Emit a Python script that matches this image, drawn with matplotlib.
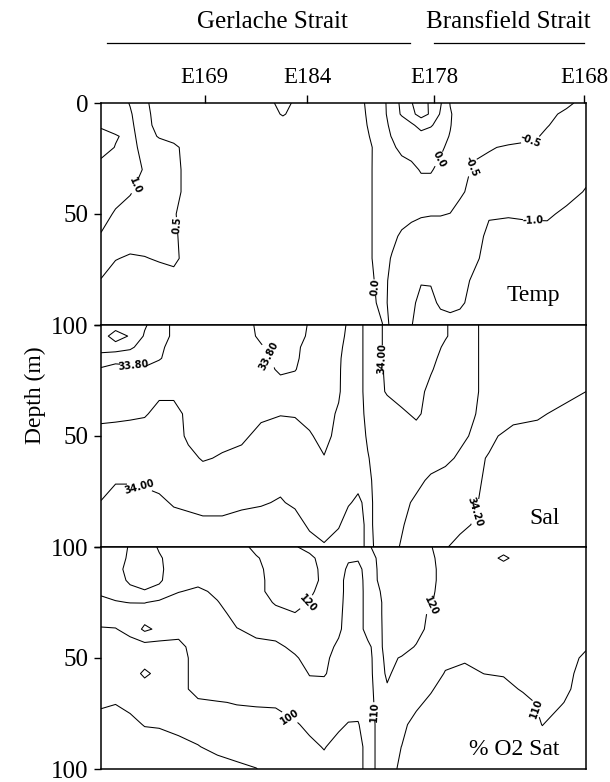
import numpy as np
import matplotlib
matplotlib.use('Agg')
import matplotlib.pyplot as plt
from matplotlib.lines import Line2D

plt.rcParams['font.family'] = ['Liberation Serif', 'DejaVu Serif']
plt.rcParams['contour.negative_linestyle'] = 'solid'

# named stations along the section (distance along the transect, 0-100)
stations = ['E169', 'E184', 'E178', 'E168']
station_x = [21.4, 42.5, 68.7, 99.6]

# ---- temperature (deg C), rows = depth, columns = distance ----
temp_x = [0, 3, 6, 9, 12, 15, 18, 22, 30, 34, 37.5, 41, 46, 51, 54, 56,
          58, 60, 62, 64, 66, 68, 70, 72, 74, 77, 80, 84, 88, 92, 96, 100]
temp_depth = [0, 5, 10, 15, 20, 30, 40, 50, 60, 70, 80, 90, 100]
temp = [
    [1.25, 1.25, 0.975, 0.6, 0.25, 0.25, 0.25, 0.25, 0.25, 0.25, 0.75, 0.25, 0.25, 0.25, 0.05, -0.25,
     -0.15, 0.25, 0.6, 0.975, 1.25, 0.9, 0.55, -0.025, -0.25, -0.25, -0.25, -0.25, -0.25, -0.25, -0.35, -0.75],
    [1.25, 1.25, 1.05, 0.675, 0.25, 0.25, 0.25, 0.25, 0.25, 0.25, 0.55, 0.25, 0.25, 0.25, 0.1, -0.25,
     -0.175, 0.25, 0.55, 0.9, 1.15, 0.95, 0.45, 0.05, -0.25, -0.25, -0.25, -0.25, -0.25, -0.325, -0.65, -0.75],
    [1.1, 1.25, 1.1, 0.7, 0.3, 0.25, 0.25, 0.25, 0.25, 0.25, 0.25, 0.25, 0.25, 0.25, 0.15, -0.2,
     -0.2, 0.125, 0.25, 0.4, 0.7, 0.55, 0.3, 0.025, -0.25, -0.25, -0.25, -0.25, -0.25, -0.475, -0.7, -0.75],
    [0.75, 0.95, 1.15, 0.75, 0.45, 0.25, 0.25, 0.25, 0.25, 0.25, 0.25, 0.25, 0.25, 0.25, 0.2, -0.1,
     -0.2, 0.025, 0.2, 0.25, 0.3, 0.25, 0.15, -0.025, -0.25, -0.25, -0.25, -0.25, -0.35, -0.6, -0.75, -0.75],
    [0.75, 1.025, 1.2, 0.8, 0.75, 0.65, 0.25, 0.25, 0.25, 0.25, 0.25, 0.25, 0.25, 0.25, 0.25, -0.01,
     -0.25, -0.1, 0.15, 0.25, 0.25, 0.2, 0.1, -0.15, -0.25, -0.35, -0.45, -0.575, -0.65, -0.7, -0.75, -0.75],
    [1.25, 1.25, 1.25, 0.95, 0.75, 0.7, 0.3, 0.25, 0.25, 0.25, 0.25, 0.25, 0.25, 0.25, 0.25, -0.015,
     -0.25, -0.25, -0.25, -0.15, 0.05, 0.05, -0.15, -0.25, -0.25, -0.6, -0.7, -0.7, -0.7, -0.7, -0.75, -0.8],
    [1.25, 1.25, 1.05, 0.75, 0.75, 0.7, 0.3, 0.25, 0.25, 0.25, 0.25, 0.25, 0.25, 0.25, 0.25, -0.015,
     -0.25, -0.25, -0.25, -0.25, -0.25, -0.25, -0.25, -0.25, -0.425, -0.65, -0.75, -0.75, -0.75, -0.75, -0.75, -1.05],
    [1.25, 0.925, 0.75, 0.75, 0.75, 0.55, 0.25, 0.25, 0.25, 0.25, 0.25, 0.25, 0.25, 0.25, 0.25, -0.015,
     -0.25, -0.25, -0.25, -0.35, -0.45, -0.475, -0.475, -0.51, -0.65, -0.75, -0.94, -0.95, -0.9, -0.89, -1.15, -1.25],
    [0.95, 0.75, 0.75, 0.75, 0.75, 0.6, 0.25, 0.25, 0.25, 0.25, 0.25, 0.25, 0.25, 0.25, 0.25, -0.015,
     -0.25, -0.35, -0.6, -0.75, -0.75, -0.75, -0.75, -0.75, -0.75, -0.75, -1.15, -1.25, -1.25, -1.25, -1.25, -1.25],
    [0.75, 0.525, 0.4375, 0.475, 0.55, 0.65, 0.25, 0.25, 0.25, 0.25, 0.25, 0.25, 0.25, 0.25, 0.25, -0.015,
     -0.25, -0.55, -0.75, -0.75, -0.75, -0.75, -0.75, -0.75, -0.75, -0.9, -1.2, -1.25, -1.25, -1.25, -1.25, -1.25],
    [0.475, 0.25, 0.25, 0.25, 0.25, 0.25, 0.25, 0.25, 0.25, 0.25, 0.25, 0.25, 0.25, 0.25, 0.25, 0.05,
     -0.25, -0.7, -0.75, -0.8, -0.95, -0.95, -0.8, -0.75, -0.8, -1.1, -1.25, -1.25, -1.25, -1.25, -1.25, -1.25],
    [0.25, 0.25, 0.25, 0.25, 0.25, 0.25, 0.25, 0.25, 0.25, 0.25, 0.25, 0.25, 0.25, 0.25, 0.25, 0.15,
     -0.25, -0.75, -0.75, -0.85, -1.2, -1.15, -0.9, -0.8, -0.9, -1.2, -1.25, -1.25, -1.25, -1.25, -1.25, -1.25],
    [0.25, 0.25, 0.25, 0.25, 0.25, 0.25, 0.25, 0.25, 0.25, 0.25, 0.25, 0.25, 0.25, 0.25, 0.25, 0.25,
     0.025, -0.75, -0.75, -0.975, -1.25, -1.25, -1.25, -1.25, -1.25, -1.25, -1.25, -1.25, -1.25, -1.25, -1.25, -1.25],
]
temp_levels = [-1.0, -0.5, 0.0, 0.5, 1.0]
temp_label_at = [(6.6, 37), (16, 55), (57, 83), (69.5, 25), (76.5, 29), (89, 19), (89, 53.5)]

# ---- salinity, rows = depth, columns = distance ----
sal_x = [0, 3, 6, 9, 12, 15, 18, 21, 25, 29, 33, 37, 40, 43, 46, 49,
         51, 53, 55, 57, 59, 62, 65, 68, 71, 74, 77, 80, 85, 90, 95, 100]
sal_depth = [0, 5, 10, 15, 20, 30, 40, 50, 60, 70, 80, 90, 100]
sal = [
    [33.65, 33.65, 33.65, 33.69, 33.75, 33.82, 33.85, 33.85, 33.85, 33.85, 33.77, 33.75, 33.75, 33.81, 33.85, 33.87,
     33.91, 33.97, 34.03, 34.03, 33.97, 33.95, 33.95, 33.95, 33.99, 34.05, 34.08, 34.15, 34.15, 34.15, 34.15, 34.15],
    [33.65, 33.55, 33.61, 33.71, 33.75, 33.82, 33.85, 33.85, 33.85, 33.85, 33.78, 33.75, 33.75, 33.82, 33.85, 33.87,
     33.92, 33.97, 34.03, 34.03, 33.97, 33.95, 33.95, 33.95, 33.99, 34.05, 34.08, 34.15, 34.15, 34.15, 34.15, 34.15],
    [33.65, 33.65, 33.68, 33.75, 33.77, 33.85, 33.85, 33.85, 33.85, 33.85, 33.81, 33.75, 33.77, 33.85, 33.85, 33.88,
     33.93, 33.97, 34.03, 34.03, 33.97, 33.95, 33.95, 33.95, 34.02, 34.05, 34.08, 34.15, 34.15, 34.15, 34.15, 34.15],
    [33.75, 33.77, 33.77, 33.77, 33.79, 33.85, 33.85, 33.85, 33.85, 33.85, 33.84, 33.76, 33.78, 33.85, 33.86, 33.89,
     33.93, 33.97, 34.03, 34.03, 33.97, 33.95, 33.95, 33.97, 34.04, 34.05, 34.08, 34.15, 34.15, 34.15, 34.15, 34.15],
    [33.81, 33.83, 33.82, 33.81, 33.85, 33.85, 33.85, 33.85, 33.85, 33.85, 33.85, 33.78, 33.795, 33.85, 33.86, 33.89,
     33.94, 33.97, 34.03, 34.03, 33.98, 33.95, 33.95, 33.99, 34.05, 34.05, 34.08, 34.15, 34.15, 34.15, 34.15, 34.17],
    [33.85, 33.86, 33.87, 33.88, 33.88, 33.88, 33.87, 33.86, 33.86, 33.86, 33.86, 33.86, 33.86, 33.87, 33.87, 33.89,
     33.95, 33.97, 34.03, 34.03, 33.99, 33.95, 33.96, 34.03, 34.05, 34.05, 34.08, 34.15, 34.15, 34.15, 34.15, 34.2],
    [33.86, 33.87, 33.88, 33.89, 33.93, 33.93, 33.88, 33.87, 33.87, 33.87, 33.88, 33.895, 33.89, 33.87, 33.87, 33.91,
     33.95, 33.97, 34.02, 34.05, 34.05, 34.02, 33.98, 34.04, 34.05, 34.05, 34.095, 34.15, 34.15, 34.18, 34.23, 34.25],
    [33.95, 33.95, 33.95, 33.95, 33.95, 33.95, 33.88, 33.87, 33.87, 33.88, 33.93, 33.95, 33.95, 33.91, 33.87, 33.93,
     33.95, 33.96, 34.01, 34.05, 34.05, 34.05, 34.05, 34.05, 34.05, 34.07, 34.12, 34.17, 34.25, 34.25, 34.25, 34.25],
    [33.95, 33.95, 33.95, 33.95, 33.95, 33.95, 33.93, 33.89, 33.91, 33.93, 33.95, 33.95, 33.95, 33.95, 33.905, 33.95,
     33.95, 33.95, 33.995, 34.03, 34.05, 34.05, 34.05, 34.05, 34.07, 34.12, 34.17, 34.21, 34.25, 34.25, 34.25, 34.25],
    [33.97, 33.99, 33.99, 33.98, 33.97, 33.96, 33.96, 33.96, 33.96, 33.96, 33.96, 33.97, 33.96, 33.95, 33.95, 33.95,
     33.96, 33.97, 33.98, 34.03, 34.05, 34.05, 34.07, 34.12, 34.15, 34.15, 34.18, 34.22, 34.25, 34.25, 34.25, 34.25],
    [34.003, 34.05, 34.05, 34.04, 34.02, 33.99, 33.98, 33.97, 33.97, 33.98, 33.99, 34.01, 33.98, 33.96, 33.95, 33.96,
     33.99, 34.02, 33.97, 34.03, 34.05, 34.07, 34.12, 34.15, 34.15, 34.15, 34.19, 34.23, 34.25, 34.25, 34.25, 34.25],
    [34.05, 34.05, 34.05, 34.05, 34.05, 34.04, 34.03, 34.02, 34.02, 34.04, 34.05, 34.05, 34.05, 33.98, 33.96, 33.99,
     34.05, 34.05, 33.97, 34.03, 34.05, 34.09, 34.15, 34.15, 34.15, 34.17, 34.21, 34.25, 34.25, 34.25, 34.25, 34.25],
    [34.05, 34.05, 34.05, 34.05, 34.05, 34.05, 34.05, 34.05, 34.05, 34.05, 34.05, 34.05, 34.05, 34.05, 34.01, 34.05,
     34.05, 34.05, 33.97, 34.02, 34.05, 34.11, 34.15, 34.15, 34.19, 34.24, 34.25, 34.25, 34.25, 34.25, 34.25, 34.25],
]
sal_levels = [33.6, 33.7, 33.8, 33.9, 34.0, 34.1, 34.2]
sal_label_at = [(6.6, 18), (34.5, 14), (58.2, 15), (8, 72.5), (77.2, 84)]

# ---- oxygen saturation (%), one profile per column position ----
o2_x = [0, 3, 6, 9, 12, 16, 20, 24, 28, 32, 36, 40, 43, 46, 49, 51,
        53, 55, 57, 59, 62, 65, 68, 71, 75, 79, 83, 87, 91, 95, 100]
o2_depth = [0, 5, 10, 15, 20, 25, 30, 37, 45, 50, 57, 64, 70, 80, 90, 100]
o2_profiles = [
    [115, 115, 115, 115, 112, 107, 105, 99.2, 95, 95, 95, 95, 92, 85, 85, 85],
    [115, 115, 115, 115, 113, 109.4, 105, 99.6, 95, 95, 95, 95, 90.5, 85, 85, 85],
    [121, 122, 125, 122, 117, 110.2, 105, 103, 96, 95, 95, 95, 92.5, 87.5, 85, 85],
    [125, 125, 125, 123, 119.5, 110.3, 105, 112, 96, 95, 102, 95, 95, 90.5, 85, 85],
    [119, 121, 121.5, 121, 118, 108, 105, 108, 96, 95, 97, 95, 95, 91, 85, 85],
    [115, 115, 115, 115, 110.5, 105, 105, 104, 97, 95, 95, 95, 95, 93, 87, 85],
    [115, 115, 115, 113, 108, 105, 105, 105, 105, 105, 105, 105, 98, 95, 89.5, 85],
    [115, 115, 115, 115, 112, 109.5, 105, 105, 105, 105, 105, 105, 99.5, 95, 93, 85],
    [115, 115, 115, 115, 115, 115, 115, 109.5, 105, 105, 105, 105, 100.5, 96, 94, 88],
    [123, 119, 117, 116, 116, 115, 115, 113, 107, 105, 105, 105, 101, 96, 94, 89.8],
    [125, 125, 125, 125, 125, 121, 117, 114, 108, 105, 105, 105, 101, 97, 95, 93],
    [121, 125, 125, 125, 125, 125, 119.5, 115, 112, 109, 105, 105, 104, 99, 96, 95],
    [116, 123, 124, 124, 122, 119.5, 116, 115, 114, 113, 110.5, 107, 105, 102, 98, 96],
    [115, 115, 117, 117.5, 116, 115, 115, 115, 114, 113, 111, 106, 105, 104, 100.5, 97],
    [115, 115, 115, 115, 115, 114, 113, 112, 108, 105, 105, 105, 104, 101.5, 97, 95],
    [115, 111.5, 108, 105, 105, 105, 105, 105, 105, 105, 105, 105, 104, 99.5, 96, 95],
    [115, 111.5, 106, 105, 105, 105, 105, 105, 105, 105, 105, 105, 103, 99.5, 96, 96],
    [119, 117, 116, 115, 114.5, 114.5, 114.5, 114.5, 107.3, 106, 105.5, 105, 105, 104, 104, 104],
    [122, 120.5, 120.2, 120.1, 118, 116, 116, 115.5, 115, 115, 115, 114, 113, 112, 112, 112],
    [125, 125, 125, 125, 125, 125, 125, 125, 125, 123, 121.5, 119, 116, 114, 113, 113],
    [125, 125, 125, 125, 125, 125, 125, 125, 125, 119, 116, 115, 114, 112, 109.9, 108.5],
    [125, 125, 125, 125, 125, 125, 125, 125, 119, 116, 115, 114, 112, 107, 105, 105],
    [120.5, 122, 123, 123, 122, 120.8, 118, 116, 115, 115, 114, 111, 108, 105, 105, 105],
    [115, 115, 115, 115, 115, 115, 115, 115, 113, 112, 109.5, 106, 105, 105, 105, 105],
    [115, 115, 115, 115, 115, 115, 115, 115, 113, 111, 108, 105, 105, 105, 105, 105],
    [115, 115, 115, 115, 115, 115, 115, 115, 115, 112, 110.1, 106, 105, 105, 105, 105],
    [115, 122, 115, 115, 115, 115, 115, 115, 115, 113, 110.8, 107, 105, 105, 105, 105],
    [115, 115, 115, 115, 115, 115, 115, 115, 115, 115, 113, 111, 107, 105, 105, 105],
    [115, 115, 115, 115, 115, 115, 115, 115, 115, 115, 115, 115, 112, 110.2, 106, 105],
    [115, 115, 115, 115, 115, 115, 115, 115, 115, 115, 115, 113, 110.5, 106, 105, 105],
    [115, 115, 115, 115, 115, 115, 115, 115, 111, 108, 105, 105, 105, 105, 105, 105],
]
o2_levels = [90, 100, 110, 120]
o2_label_at = [(42.5, 25), (39, 76.5), (56.5, 74), (68.4, 27), (88.7, 73.5)]


def draw_section(ax, x, depth, values, levels, fmt, label_at, name, name_depth):
    cs = ax.contour(x, depth, np.asarray(values), levels=levels,
                    colors='black', linewidths=0.75, linestyles='solid')
    ax.clabel(cs, levels, manual=label_at, fmt=fmt, inline=True,
              inline_spacing=2, fontsize=7)
    for lbl in cs.labelTexts:
        lbl.set_family('DejaVu Sans')
        lbl.set_fontweight('bold')
    ax.set_xlim(0, 100)
    ax.set_ylim(100, 0)
    ax.text(94.6, name_depth, name, ha='right', va='center', fontsize=17)
    for sp in ax.spines.values():
        sp.set_linewidth(1.1)
    ax.tick_params(axis='y', direction='out', length=5, width=1,
                   pad=4, labelsize=18)


fig = plt.figure(figsize=(6.1, 7.82), dpi=100)
left, width, height = 101 / 610, 485 / 610, 222 / 782
bottoms = [1 - 325 / 782, 1 - 547 / 782, 1 - 769 / 782]
ax_t, ax_s, ax_o = [fig.add_axes([left, b, width, height]) for b in bottoms]

draw_section(ax_t, temp_x, temp_depth, temp, temp_levels, '%.1f',
             temp_label_at, 'Temp', 86.5)
draw_section(ax_s, sal_x, sal_depth, sal, sal_levels, '%.2f',
             sal_label_at, 'Sal', 87)
draw_section(ax_o, o2_x, o2_depth, np.asarray(o2_profiles).T, o2_levels, '%d',
             o2_label_at, '% O2 Sat', 91)

ax_t.set_yticks([0, 50, 100])
ax_t.set_yticklabels(['0', '50', '100'])
for ax in (ax_s, ax_o):
    ax.set_yticks([0, 50, 100])
    ax.set_yticklabels(['', '50', '100'])
    ax.set_xticks([])

# station names on top of the first panel
ax_t.xaxis.tick_top()
ax_t.set_xticks(station_x)
ax_t.set_xticklabels(stations, fontsize=16.5)
ax_t.tick_params(axis='x', direction='out', length=5.5, width=1, pad=5)

fig.text(35 / 610, 1 - 395 / 782, 'Depth (m)', rotation=90,
         ha='center', va='center', fontsize=17)

# strait names with their underlines
fig.text(272 / 610, 1 - 22 / 782, 'Gerlache Strait', ha='center', va='center', fontsize=18)
fig.text(508 / 610, 1 - 22 / 782, 'Bransfield Strait', ha='center', va='center', fontsize=18)
fig.add_artist(Line2D([107 / 610, 410 / 610], [1 - 43 / 782] * 2, color='black', lw=0.9))
fig.add_artist(Line2D([434 / 610, 584 / 610], [1 - 43 / 782] * 2, color='black', lw=0.9))

fig.savefig('out.png', dpi=100)
